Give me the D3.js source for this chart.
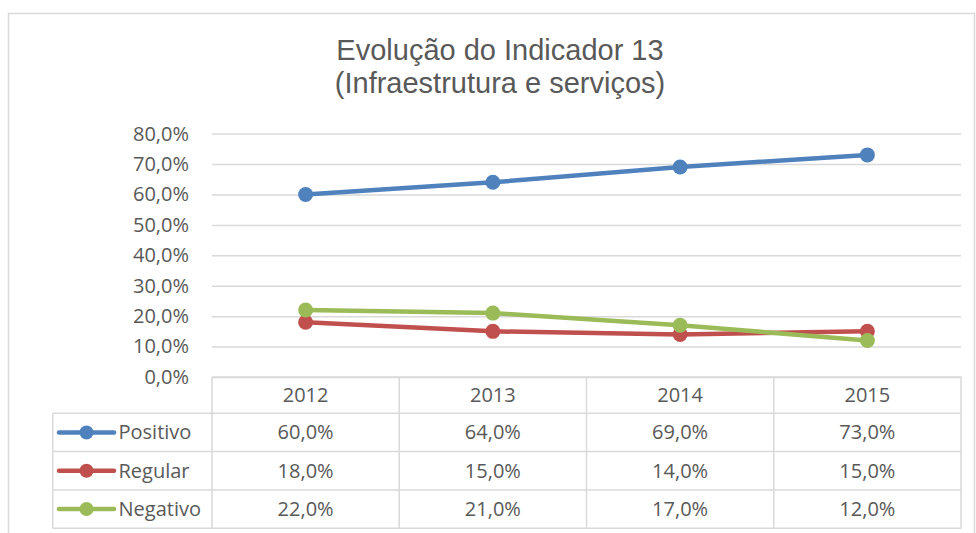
<!DOCTYPE html>
<html>
<head>
<meta charset="utf-8">
<script src="https://cdn.jsdelivr.net/npm/d3@7"></script>
<style>
  body { margin: 0; background: #fff; }
  svg { display: block; }
  text { fill: #595959; }
</style>
</head>
<body>
<svg width="976" height="533"></svg>
<script>
const w = 976;
const h = 533;

// chart data
const titleLines = ['Evolução do Indicador 13', '(Infraestrutura e serviços)'];
const years = ['2012', '2013', '2014', '2015'];
const seriesNames = ['Positivo', 'Regular', 'Negativo'];
const seriesColors = ['#4f81bd', '#c0504d', '#9bbb59'];
const positivo = [60, 64, 69, 73];
const regular = [18, 15, 14, 15];
const negativo = [22, 21, 17, 12];
const yTicks = [0, 10, 20, 30, 40, 50, 60, 70, 80];

const series = seriesNames.map((name, i) => ({
  name: name,
  color: seriesColors[i],
  values: [positivo, regular, negativo][i]
}));

const fmt = v => v.toFixed(1).replace('.', ',') + '%';
const font = '"Open Sans", "Noto Sans", sans-serif';
const fontSize = '20px';

let svg = d3.select('svg');

// outer frame of the chart (bottom runs past the picture)
svg.append('rect')
  .attr('x', 8.5).attr('y', 13.5)
  .attr('width', 966).attr('height', 540)
  .attr('fill', '#fff')
  .attr('stroke', '#d9d9d9')
  .attr('stroke-width', 1.5);

// title
svg.append('g')
  .selectAll('text')
  .data(titleLines)
  .enter()
  .append('text')
  .attr('x', 500)
  .attr('y', (d, i) => 60 + i * 33)
  .attr('text-anchor', 'middle')
  .style('font-family', 'Liberation Sans, Arial, sans-serif')
  .style('font-size', '29px')
  .text(d => d);

const plotLeft = 212;
const plotRight = 961;

const xScale = d3.scaleBand().domain(years).range([plotLeft, plotRight]);
const yScale = d3.scaleLinear().domain([0, 80]).range([377, 133.6]);

// gridlines + y labels
const yAxis = d3.axisLeft(yScale)
  .tickValues(yTicks)
  .tickSize(-(plotRight - plotLeft))
  .tickPadding(23)
  .tickFormat(fmt);

svg.append('g')
  .attr('transform', `translate(${plotLeft},0)`)
  .call(yAxis)
  .call(g => g.select('.domain').remove())
  .call(g => g.selectAll('line').attr('stroke', '#d9d9d9').attr('stroke-width', 1.5))
  .call(g => g.selectAll('text')
    .style('font-family', font)
    .style('font-size', fontSize)
    .attr('fill', '#595959'));

// data table under the plot
const headerTop = 377;
const headerBottom = 413.3;
const rowH = 38.3;
const tableLeft = 52.7;
const table = svg.append('g')
  .attr('stroke', '#d9d9d9')
  .attr('stroke-width', 1.5);

// horizontal lines
table.append('line')
  .attr('x1', plotLeft).attr('x2', plotRight)
  .attr('y1', headerTop).attr('y2', headerTop);
d3.range(seriesNames.length + 1).forEach(i => {
  table.append('line')
    .attr('x1', tableLeft).attr('x2', plotRight)
    .attr('y1', headerBottom + i * rowH).attr('y2', headerBottom + i * rowH);
});
// vertical lines
const tableBottom = headerBottom + seriesNames.length * rowH;
[plotLeft, ...years.map(y => xScale(y) + xScale.bandwidth())].forEach(x => {
  table.append('line')
    .attr('x1', x).attr('x2', x)
    .attr('y1', headerTop).attr('y2', tableBottom);
});
table.append('line')
  .attr('x1', tableLeft).attr('x2', tableLeft)
  .attr('y1', headerBottom).attr('y2', tableBottom);

// header years
svg.append('g')
  .selectAll('text')
  .data(years)
  .enter()
  .append('text')
  .attr('x', d => xScale(d) + xScale.bandwidth() / 2)
  .attr('y', (headerTop + headerBottom) / 2)
  .attr('dy', '0.35em')
  .attr('text-anchor', 'middle')
  .style('font-family', font)
  .style('font-size', fontSize)
  .text(d => d);

// rows: legend key + values
const rows = svg.append('g')
  .selectAll('g')
  .data(series)
  .enter()
  .append('g')
  .attr('transform', (d, i) => `translate(0,${headerBottom + (i + 0.5) * rowH})`);

rows.append('line')
  .attr('x1', 59).attr('x2', 114)
  .attr('y1', 0).attr('y2', 0)
  .attr('stroke', d => d.color)
  .attr('stroke-width', 4.5)
  .attr('stroke-linecap', 'round');
rows.append('circle')
  .attr('cx', 86.5).attr('cy', 0).attr('r', 7)
  .attr('fill', d => d.color);
rows.append('text')
  .attr('x', 118.5)
  .attr('dy', '0.35em')
  .style('font-family', font)
  .style('font-size', fontSize)
  .text(d => d.name);

rows.selectAll('text.val')
  .data(d => d.values)
  .enter()
  .append('text')
  .attr('class', 'val')
  .attr('x', (d, i) => xScale(years[i]) + xScale.bandwidth() / 2)
  .attr('dy', '0.35em')
  .attr('text-anchor', 'middle')
  .style('font-family', font)
  .style('font-size', fontSize)
  .text(d => fmt(d));

// lines and markers
const line = d3.line()
  .x((d, i) => xScale(years[i]) + xScale.bandwidth() / 2)
  .y(d => yScale(d));

const lines = svg.append('g')
  .selectAll('g')
  .data(series)
  .enter()
  .append('g');

lines.append('path')
  .attr('d', d => line(d.values))
  .attr('fill', 'none')
  .attr('stroke', d => d.color)
  .attr('stroke-width', 4.5)
  .attr('stroke-linejoin', 'round');

lines.selectAll('circle')
  .data(d => d.values.map(v => ({ v: v, color: d.color })))
  .enter()
  .append('circle')
  .attr('cx', (d, i) => xScale(years[i]) + xScale.bandwidth() / 2)
  .attr('cy', d => yScale(d.v))
  .attr('r', 7.5)
  .attr('fill', d => d.color);
</script>
</body>
</html>
